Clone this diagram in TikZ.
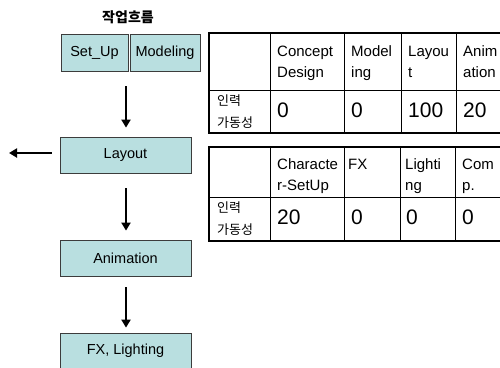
\documentclass[tikz,border=0pt]{standalone}
\usepackage{fontspec}
\setmainfont{Liberation Sans}
\newfontfamily\kr{Noto Sans CJK KR}
\usetikzlibrary{arrows.meta}
\definecolor{boxfill}{RGB}{185,223,224}
\definecolor{boxline}{RGB}{60,60,60}
\begin{document}
\begin{tikzpicture}[x=1pt,y=-1pt,
  flow/.style={draw=boxline, fill=boxfill, line width=0.8pt, minimum height=36pt, inner sep=0pt, font=\fontsize{14.5}{17}\selectfont},
  arr/.style={line width=2.6pt, -{Triangle[width=9pt,length=8pt]}},
  hdr/.style={anchor=base west, align=left, inner sep=0pt, font=\fontsize{15}{21}\selectfont},
  num/.style={anchor=base west, inner sep=0pt, font=\fontsize{21}{24}\selectfont},
  krl/.style={anchor=base west, align=left, inner sep=0pt, font=\kr\fontsize{13}{22}\selectfont},
  outerline/.style={line width=1.8pt},
  innerline/.style={line width=0.9pt}]
\useasboundingbox (0,0) rectangle (500,367);
\clip (0,0) rectangle (500,367);
\fill[white] (0,0) rectangle (500,367);

% title
\node[font=\kr\bfseries\fontsize{14}{16}\selectfont, inner sep=0pt] (title) at (128,17) {작업흐름};

% flow boxes
\node[flow, minimum width=67pt, minimum height=37pt] (setup) at (94.5,52.5) {Set\_Up};
\node[flow, minimum width=70pt, minimum height=37pt] (model) at (165,52.5) {Modeling};
\node[flow, minimum width=131pt] (layout) at (125.5,155) {Layout};
\node[flow, minimum width=131pt] (anim) at (125.5,258) {Animation};
\node[flow, minimum width=131pt] (fx) at (125.5,351) {FX, Lighting};

% arrows
\coordinate (split) at (126,71);
\coordinate (ext) at (9,153);
\draw[arr, shorten <=15pt, shorten >=9pt] (split) -- (split |- layout.north);
\draw[arr, shorten <=15pt, shorten >=9pt] (layout.south -| split) -- (anim.north -| split);
\draw[arr, shorten <=11pt, shorten >=5pt] (anim.south -| split) -- (fx.north -| split);
\draw[arr, shorten <=8pt] (layout.west |- ext) -- (ext);

% table 1 (base anchor of a multi-line node = last line's baseline)
\draw[innerline] (209,90) -- (520,90);
\foreach \cx in {270,344,401,456} \draw[innerline] (\cx,33) -- (\cx,133);
\draw[outerline] (209,33) rectangle (520,133);
\node[hdr] (h11) at (277,77.5) {Concept\\Design};
\node[hdr] (h12) at (351,77.5) {Model\\ing};
\node[hdr] (h13) at (408,77.5) {Layou\\t};
\node[hdr] (h14) at (463,77.5) {Anim\\ation};
\node[krl] (k1) at (217,127) {인력\\가동성};
\node[num] (n11) at (277,117) {0};
\node[num] (n12) at (351,117) {0};
\node[num] (n13) at (408,117) {100};
\node[num] (n14) at (463,117) {20};

% table 2
\draw[innerline] (209,197) -- (520,197);
\foreach \cx in {270,344,400,455} \draw[innerline] (\cx,147) -- (\cx,241);
\draw[outerline] (209,147) rectangle (520,241);
\node[hdr] (h21) at (277,190) {Characte\\r-SetUp};
\node[hdr] (h22) at (348,169) {FX};
\node[hdr] (h23) at (405,190) {Lighti\\ng};
\node[hdr] (h24) at (462,190) {Com\\p.};
\node[krl] (k2) at (217,234) {인력\\가동성};
\node[num] (n21) at (277,224) {20};
\node[num] (n22) at (351,224) {0};
\node[num] (n23) at (406,224) {0};
\node[num] (n24) at (462,224) {0};
\end{tikzpicture}
\end{document}
